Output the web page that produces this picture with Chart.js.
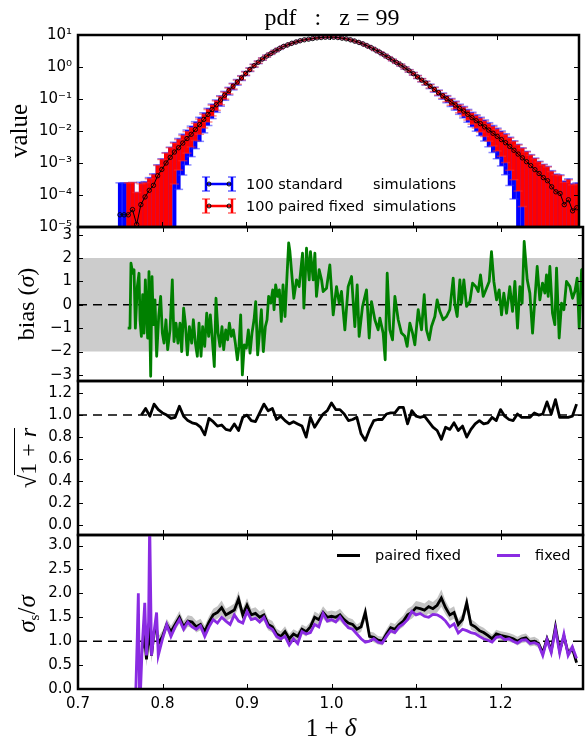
<!DOCTYPE html>
<html><head><meta charset="utf-8">
<script src="https://cdn.jsdelivr.net/npm/chart.js@4.4.0/dist/chart.umd.min.js"></script>
<style>
html,body{margin:0;padding:0;background:#fff;}
body{width:585px;height:739px;position:relative;overflow:hidden;font-family:'DejaVu Sans';}
canvas{position:absolute;left:0;}
.lab{position:absolute;font-family:'Liberation Serif';color:#000;white-space:pre;line-height:1;}
.ctr{transform:translate(-50%,-50%);}
.rot{transform:translate(-50%,-50%) rotate(-90deg);}
.leg{position:absolute;font-family:'DejaVu Sans';font-size:14.5px;color:#000;white-space:pre;line-height:1;}
</style></head><body>
<canvas id="c1" width="585" height="245" style="top:0px"></canvas>
<canvas id="c2" width="585" height="184" style="top:212px"></canvas>
<canvas id="c3" width="585" height="184" style="top:366px"></canvas>
<canvas id="c4" width="585" height="219" style="top:520px"></canvas>

<div class="lab ctr" style="left:332px;top:17px;font-size:24px">pdf   :   z = 99</div>
<div class="lab rot" style="left:18px;top:131px;font-size:25px">value</div>
<div class="lab rot" style="left:26px;top:304px;font-size:24px">bias (<i>σ</i>)</div>
<div class="lab rot" style="left:27px;top:458px;font-size:24px">√<span style="display:inline-block;border-top:1.5px solid #000;padding-top:1px">1 + <i>r</i></span></div>
<div class="lab rot" style="left:28px;top:614px;font-size:25px"><i>σ</i><span style="font-size:15px;vertical-align:-4px">s</span>/<i>σ</i></div>
<div class="lab ctr" style="left:331px;top:727px;font-size:25px">1 + <i>δ</i></div>

<div class="leg" style="left:201px;top:176px;height:16px;display:flex;align-items:center">
<svg width="36" height="16" style="margin-right:9px"><g stroke="rgba(0,0,255,0.6)" stroke-width="1.5"><line x1="1" y1="1" x2="9" y2="1"/><line x1="1" y1="15" x2="9" y2="15"/><line x1="27" y1="1" x2="35" y2="1"/><line x1="27" y1="15" x2="35" y2="15"/></g><g stroke="#0000ff" stroke-width="2.5"><line x1="5" y1="1" x2="5" y2="15"/><line x1="31" y1="1" x2="31" y2="15"/><line x1="5" y1="8" x2="31" y2="8"/></g><circle cx="8" cy="8" r="2" fill="none" stroke="#000"/><circle cx="28" cy="8" r="2" fill="none" stroke="#000"/></svg><span style="display:inline-block;width:127px">100 standard</span><span>simulations</span></div>
<div class="leg" style="left:201px;top:198px;height:16px;display:flex;align-items:center">
<svg width="36" height="16" style="margin-right:9px"><g stroke="rgba(255,0,0,0.6)" stroke-width="1.5"><line x1="1" y1="1" x2="9" y2="1"/><line x1="1" y1="15" x2="9" y2="15"/><line x1="27" y1="1" x2="35" y2="1"/><line x1="27" y1="15" x2="35" y2="15"/></g><g stroke="#ff0000" stroke-width="2.5"><line x1="5" y1="1" x2="5" y2="15"/><line x1="31" y1="1" x2="31" y2="15"/><line x1="5" y1="8" x2="31" y2="8"/></g><circle cx="8" cy="8" r="2" fill="none" stroke="#000"/><circle cx="28" cy="8" r="2" fill="none" stroke="#000"/></svg><span style="display:inline-block;width:127px">100 paired fixed</span><span>simulations</span></div>

<div class="leg" style="left:337px;top:547px;height:16px;display:flex;align-items:center">
<span style="display:inline-block;width:23px;height:3px;background:#000;margin-right:15px"></span><span>paired fixed</span></div>
<div class="leg" style="left:497px;top:547px;height:16px;display:flex;align-items:center">
<span style="display:inline-block;width:23px;height:3px;background:#8a2be2;margin-right:15px"></span><span>fixed</span></div>

<script>
// ---------------- data ----------------
const X_MIN = 0.7, X_MAX = 1.2976;
const xTicks = [0.7, 0.8, 0.9, 1.0, 1.1, 1.2];

const logTicks = [1e-5, 1e-4, 1e-3, 1e-2, 1e-1, 1, 10];
const logTickLabels = ['10\u207B\u2075','10\u207B\u2074','10\u207B\u00B3','10\u207B\u00B2','10\u207B\u00B9','10\u2070','10\u00B9'];
const biasTicks = [-3, -2, -1, 0, 1, 2, 3];
const rTicks = [0.0, 0.2, 0.4, 0.6, 0.8, 1.0, 1.2];
const sigTicks = [0.0, 0.5, 1.0, 1.5, 2.0, 2.5, 3.0];

// panel 1: pdf with error bars
const pdfX = [0.750,0.755,0.760,0.765,0.770,0.775,0.780,0.785,0.790,0.795,
0.800,0.805,0.810,0.815,0.820,0.825,0.830,0.835,0.840,0.845,
0.850,0.855,0.860,0.865,0.870,0.875,0.880,0.885,0.890,0.895,
0.900,0.905,0.910,0.915,0.920,0.925,0.930,0.935,0.940,0.945,
0.950,0.955,0.960,0.965,0.970,0.975,0.980,0.985,0.990,0.995,
1.000,1.005,1.010,1.015,1.020,1.025,1.030,1.035,1.040,1.045,
1.050,1.055,1.060,1.065,1.070,1.075,1.080,1.085,1.090,1.095,
1.100,1.105,1.110,1.115,1.120,1.125,1.130,1.135,1.140,1.145,
1.150,1.155,1.160,1.165,1.170,1.175,1.180,1.185,1.190,1.195,
1.200,1.205,1.210,1.215,1.220,1.225,1.230,1.235,1.240,1.245,
1.250,1.255,1.260,1.265,1.270,1.275,1.280,1.285,1.290,1.295];
const pdfY = [2.4e-5,2.4e-5,2.4e-5,3.5e-5,1.2e-5,5.0e-5,8.7e-5,1.4e-4,2.0e-4,4.0e-4,
6.3e-4,1.0e-3,1.5e-3,2.2e-3,3.0e-3,4.2e-3,5.8e-3,7.9e-3,1.12e-2,1.58e-2,
2.3e-2,3.3e-2,4.7e-2,6.6e-2,9.3e-2,0.132,0.182,0.251,0.339,0.457,
0.631,0.832,1.10,1.41,1.78,2.19,2.63,3.16,3.72,4.37,
4.90,5.50,6.03,6.61,7.08,7.41,7.76,8.13,8.32,8.51,
8.51,8.51,8.32,7.94,7.59,7.08,6.46,5.89,5.25,4.57,
3.98,3.39,2.88,2.40,2.00,1.66,1.38,1.15,0.933,0.759,
0.617,0.490,0.389,0.316,0.251,0.200,0.158,0.126,0.102,0.081,
0.065,0.051,0.042,0.033,0.026,0.021,0.017,0.0135,0.0107,0.0085,
0.0068,0.0054,0.0043,0.0033,0.0025,0.0019,0.00145,0.0011,0.00083,0.00062,
0.00047,0.00035,0.00028,0.00018,0.000126,0.000112,0.00005,0.000071,0.000032,0.00004];
// relative 1-sigma scatter, 100 standard simulations
const errStd = [9,9,9,6,9,4,2,1.5,1.3,1.2,
1.15,1.1,1.08,1.02,0.95,0.9,0.85,0.8,0.75,0.7,
0.62,0.55,0.48,0.42,0.36,0.31,0.27,0.23,0.2,0.17,
0.15,0.13,0.11,0.095,0.08,0.07,0.06,0.05,0.045,0.04,
0.03,0.03,0.03,0.03,0.03,0.03,0.03,0.03,0.03,0.03,
0.03,0.03,0.03,0.03,0.03,0.03,0.03,0.03,0.03,0.03,
0.03,0.035,0.04,0.045,0.05,0.055,0.06,0.07,0.08,0.09,
0.1,0.11,0.12,0.14,0.16,0.18,0.2,0.22,0.25,0.28,
0.31,0.35,0.39,0.43,0.48,0.53,0.58,0.64,0.7,0.75,
0.8,0.85,0.9,0.94,0.97,1.02,1.05,1.1,1.2,1.3,
1.4,1.6,1.8,2.2,2.6,2.8,4.5,3.5,6,5];
// relative 1-sigma scatter, 100 paired fixed simulations
const errFix = [null,null,9,6,9,3.5,1.8,1.3,1.15,1.1,
1.05,1.03,1.01,0.9,0.8,0.72,0.65,0.6,0.55,0.5,
0.46,0.42,0.37,0.33,0.29,0.25,0.21,0.18,0.15,0.13,
0.11,0.1,0.085,0.075,0.065,0.055,0.05,0.04,0.035,0.03,
0.025,0.025,0.025,0.025,0.025,0.025,0.025,0.025,0.025,0.025,
0.025,0.025,0.025,0.025,0.025,0.025,0.025,0.025,0.025,0.025,
0.025,0.03,0.03,0.035,0.04,0.045,0.05,0.055,0.06,0.07,
0.08,0.09,0.1,0.11,0.12,0.14,0.16,0.17,0.19,0.21,
0.24,0.27,0.3,0.33,0.37,0.41,0.45,0.5,0.55,0.6,
0.65,0.7,0.76,0.82,0.88,0.93,0.97,1.02,1.1,1.2,
1.3,1.5,1.7,2.0,2.4,2.6,4,3.2,5.5,4.5];

// panel 2: bias in units of sigma
const biasBand = [-2, 2];
const biasRef = 0;
const biasX = [0.7588,0.7615,0.7627,0.7647,0.7663,0.7679,0.7702,0.7722,0.7734,0.7750,
0.7765,0.7781,0.7797,0.7813,0.7824,0.7840,0.7860,0.7876,0.7892,0.7911,
0.7931,0.7955,0.7978,0.7998,0.8018,0.8041,0.8061,0.8089,0.8116,0.8136,
0.8160,0.8183,0.8207,0.8227,0.8250,0.8270,0.8294,0.8318,0.8345,0.8365,
0.8389,0.8412,0.8432,0.8456,0.8475,0.8499,0.8523,0.8546,0.8566,0.8590,
0.8613,0.8633,0.8657,0.8680,0.8704,0.8724,0.8748,0.8771,0.8791,0.8815,
0.8838,0.8862,0.8886,0.8905,0.8925,0.8945,0.8968,0.8992,0.9016,0.9036,
0.9059,0.9083,0.9103,0.9126,0.9146,0.9170,0.9193,0.9217,0.9237,0.9256,
0.9280,0.9304,0.9320,0.9339,0.9363,0.9383,0.9406,0.9426,0.9450,0.9469,
0.9493,
0.9507,0.9554,0.9586,0.9617,0.9657,0.9673,0.9704,0.9736,0.9751,0.9783,
0.9803,0.9822,0.9854,0.9882,0.9901,0.9941,0.9980,1.0020,1.0059,1.0091,
1.0118,1.0158,1.0197,1.0237,1.0276,1.0304,1.0327,1.0367,1.0414,1.0446,
1.0473,1.0513,1.0552,1.0572,1.0611,1.0635,1.0659,1.0690,1.0722,1.0750,
1.0789,1.0828,1.0868,1.0895,1.0927,1.0959,1.0986,1.1026,1.1065,1.1097,
1.1124,1.1156,1.1183,1.1223,1.1250,1.1282,1.1321,1.1361,1.1400,1.1440,
1.1460,1.1487,1.1519,1.1538,1.1566,1.1598,1.1637,1.1669,1.1708,1.1736,
1.1763,1.1795,1.1834,1.1866,1.1893,1.1921,1.1953,1.1984,1.2012,1.2039,
1.2071,1.2110,1.2142,1.2170,1.2201,1.2229,1.2256,1.2280,1.2316,1.2347,
1.2379,1.2406,1.2434,1.2465,1.2497,1.2525,1.2544,1.2564,1.2584,1.2615,
1.2643,1.2663,1.2694,1.2722,1.2750,1.2781,1.2821,1.2852,1.2880,1.2907,
1.2931,1.2959,1.2986];
const biasY = [-1.0,-1.0,1.78,1.35,1.5,-1.0,0.78,1.35,-0.64,-1.35,
0.43,-1.21,1.07,-0.5,-1.42,1.42,-3.06,1.21,-0.85,0.21,
-2.2,-0.5,0.36,-1.21,-1.64,-0.64,-1.92,-1.07,1.07,-1.57,
-0.78,-1.64,-0.78,-2.0,-0.14,-0.78,-2.14,-0.93,-1.64,-0.64,
-1.64,-2.2,-0.78,-2.2,-0.93,-1.78,-0.36,-1.35,-0.43,-1.5,
-2.64,0.28,-1.21,-1.78,-0.93,-1.92,-1.07,-1.5,-0.78,-1.35,
-1.07,-1.64,-2.35,-1.78,-0.43,-3.0,-1.71,-1.85,-1.07,-2.07,
-1.21,-0.64,0.14,-2.14,-1.28,-0.21,-2.0,-0.93,-0.64,0.36,
0.07,0.64,-0.21,0.85,0.36,0.64,-0.71,0.85,-0.5,0.93,
2.65,
2.3,0.28,1.07,0.78,2.21,-0.14,2.42,1.07,2.28,1.07,
2.21,0.36,1.50,1.07,0.57,0.71,1.71,-0.43,0.78,0.07,
0.57,-1.07,0.78,1.21,-0.93,0.85,-1.35,-0.07,0.64,-1.42,
0.14,-0.64,-1.07,-0.57,-1.21,-2.35,1.35,-1.07,-1.50,0.36,
-0.64,-1.21,-1.35,-1.78,-0.78,-1.21,-1.71,-0.21,-1.07,0.43,
-1.07,-1.50,-0.93,-0.50,0.21,-0.28,-0.64,-0.50,-0.21,1.14,
0.00,-0.50,1.07,0.07,1.07,-0.07,0.14,0.93,0.78,0.57,
1.28,0.36,0.71,1.00,2.28,1.00,0.21,0.64,-0.43,0.50,
-0.36,0.78,-0.28,1.00,-1.00,0.78,0.07,2.71,1.07,0.50,
-1.21,0.21,1.64,0.21,0.93,0.50,1.28,0.36,1.64,-0.36,
-0.85,1.57,-1.42,0.07,-0.21,1.00,0.78,0.28,0.57,1.14,
-1.00,1.50,1.57];

// panel 3: sqrt(1+r)
const rRef = 1;
const rX = [0.775,0.780,0.785,0.790,0.795,0.800,0.805,0.810,0.815,0.820,
0.825,0.830,0.835,0.840,0.845,0.850,0.855,0.860,0.865,0.870,
0.875,0.880,0.885,0.890,0.895,0.900,0.905,0.910,0.915,0.920,
0.925,0.930,0.935,0.940,0.945,0.950,0.955,0.960,0.965,0.970,
0.975,0.980,0.985,0.990,0.995,1.000,1.005,1.010,1.015,1.020,
1.025,1.030,1.035,1.040,1.045,1.050,1.055,1.060,1.065,1.070,
1.075,1.080,1.085,1.090,1.095,1.100,1.105,1.110,1.115,1.120,
1.125,1.130,1.135,1.140,1.145,1.150,1.155,1.160,1.165,1.170,
1.175,1.180,1.185,1.190,1.195,1.200,1.205,1.210,1.215,1.220,
1.225,1.230,1.235,1.240,1.245,1.250,1.255,1.260,1.265,1.270,
1.275,1.280,1.285,1.290];
const rY = [1.00,1.06,0.99,1.10,1.05,1.02,1.00,0.97,0.98,1.08,
0.99,0.95,0.93,0.92,0.89,0.82,0.97,0.94,0.90,0.91,
0.87,0.86,0.92,0.86,0.98,1.00,0.95,0.94,1.02,1.10,
1.04,1.06,0.96,0.99,0.95,0.92,0.94,0.92,0.90,0.80,
0.98,0.89,0.95,1.01,1.04,1.11,1.05,1.05,1.01,0.95,
0.96,0.98,0.83,0.77,0.87,0.95,0.96,0.96,1.01,1.02,
1.02,1.07,1.07,0.92,1.04,0.99,0.98,0.99,0.94,0.89,
0.86,0.78,0.89,0.87,0.93,0.86,0.90,0.80,0.87,0.92,
0.95,0.92,0.93,0.98,0.95,1.05,0.99,0.96,0.95,1.01,
0.98,0.98,0.98,1.02,1.00,1.01,1.12,1.01,1.14,0.98,
0.98,0.98,0.99,1.10];

// panel 4: sigma_s / sigma
const sigRef = 1;
const sigX = [0.768,0.770,0.7714,0.773,0.776,0.779,0.781,0.7835,0.7848,0.787,0.790,0.793,0.795,
0.800,0.805,0.810,0.815,0.820,0.825,0.830,0.835,0.840,0.845,
0.850,0.855,0.860,0.865,0.870,0.875,0.880,0.885,0.890,0.895,
0.900,0.905,0.910,0.915,0.920,0.925,0.930,0.935,0.940,0.945,
0.950,0.955,0.960,
0.965,0.970,0.975,0.980,0.985,0.990,0.995,1.000,1.005,1.010,
1.015,1.020,1.025,1.030,1.035,1.040,1.045,1.050,1.055,1.060,
1.065,1.070,1.075,1.080,1.085,1.090,1.095,1.100,1.105,1.110,
1.115,1.120,1.125,1.130,1.135,1.140,1.145,1.150,1.155,1.160,
1.165,1.170,1.175,1.180,1.185,1.190,1.195,1.200,1.205,1.210,
1.215,1.220,1.225,1.230,1.235,1.240,1.245,1.250,1.255,1.260,
1.265,1.270,1.275,1.280,1.285,1.290];
const sigPaired = [null,null,null,null,0.85,1.05,0.62,1.1,1.2,0.7,1.2,1.25,0.95,
1.10,1.35,1.20,1.35,1.50,1.30,1.42,1.40,1.30,1.35,
1.20,1.40,1.55,1.60,1.70,1.55,1.60,1.65,1.88,1.55,
1.75,1.55,1.58,1.50,1.55,1.35,1.30,1.15,1.10,1.20,
1.05,1.15,1.10,
1.25,1.20,1.30,1.50,1.45,1.60,1.50,1.52,1.50,1.55,
1.45,1.38,1.35,1.25,1.30,1.60,1.10,1.08,1.02,1.00,
1.15,1.28,1.25,1.35,1.42,1.55,1.60,1.70,1.68,1.65,
1.72,1.68,1.75,1.90,1.70,1.55,1.60,1.35,1.45,1.80,
1.35,1.30,1.22,1.18,1.12,1.05,1.15,1.12,1.10,1.08,
1.05,1.00,1.05,1.07,0.98,1.00,0.95,0.75,1.05,0.80,
1.30,0.80,1.10,0.75,0.85,0.55];
const sigPairedErr = [null,null,null,null,0.15,0.2,0.15,0.2,0.2,0.15,0.15,0.15,0.15,
0.12,0.12,0.12,0.12,0.13,0.12,0.12,0.12,0.12,0.12,
0.12,0.12,0.13,0.13,0.15,0.13,0.13,0.14,0.17,0.13,
0.15,0.13,0.13,0.12,0.13,0.12,0.12,0.11,0.11,0.11,
0.1,0.1,0.1,
0.1,0.1,0.1,0.12,0.12,0.13,0.12,0.12,0.12,0.13,
0.12,0.11,0.11,0.1,0.11,0.15,0.1,0.1,0.09,0.09,
0.1,0.11,0.11,0.11,0.12,0.13,0.13,0.14,0.14,0.14,
0.14,0.14,0.15,0.18,0.14,0.13,0.13,0.11,0.12,0.16,
0.11,0.1,0.1,0.1,0.09,0.09,0.09,0.09,0.09,0.09,
0.09,0.09,0.09,0.09,0.09,0.09,0.09,0.08,0.09,0.08,
0.1,0.08,0.09,0.08,0.08,0.07];
const sigFixed = [-0.3,1.0,2.0,-0.5,0.9,1.8,0.7,1.4,3.5,0.7,1.2,1.6,0.7,
1.05,1.35,1.10,1.30,1.45,1.25,1.40,1.30,1.25,1.32,
1.10,1.30,1.45,1.38,1.50,1.42,1.35,1.55,1.42,1.38,
1.62,1.45,1.48,1.40,1.50,1.30,1.25,1.10,1.05,1.10,
0.92,1.05,0.95,
1.20,1.15,1.18,1.35,1.30,1.58,1.42,1.45,1.40,1.51,
1.38,1.28,1.25,1.15,1.05,0.98,1.00,1.05,0.98,0.96,
1.10,1.22,1.18,1.30,1.36,1.45,1.62,1.55,1.58,1.52,
1.50,1.56,1.55,1.50,1.42,1.30,1.36,1.17,1.25,1.22,
1.18,1.16,1.10,1.05,1.02,0.98,1.08,1.10,1.03,1.05,
1.00,0.96,1.02,1.03,0.95,0.97,0.93,0.70,1.03,0.76,
1.25,0.75,1.15,0.70,0.88,0.64];

// ---------------- helpers ----------------
Chart.defaults.font.family = "'DejaVu Sans'";
Chart.defaults.font.size = 15;
Chart.defaults.color = '#000';

const pts = (xs, ys) => xs.map((x, i) => ({x, y: ys[i]}));
const hline = v => [{x: X_MIN, y: v}, {x: X_MAX, y: v}];

function errSegments(err) {
  const d = [];
  pdfX.forEach((x, i) => {
    if (err[i] == null) return;
    const v = pdfY[i], e = err[i];
    d.push({x, y: Math.max(v * (1 - e), 1e-9)}, {x, y: v * (1 + e)}, {x, y: null});
  });
  return d;
}
function errCaps(err) {
  const d = [];
  pdfX.forEach((x, i) => {
    if (err[i] == null) return;
    const v = pdfY[i], e = err[i];
    d.push({x, y: v * (1 + e)});
    if (e < 1) d.push({x, y: v * (1 - e)});
  });
  return d;
}

const framePlugin = {
  id: 'frame',
  afterDatasetsDraw(chart) {
    const {ctx, chartArea: a, scales} = chart;
    const xs = scales.x, ys = scales.y;
    ctx.save();
    ctx.strokeStyle = '#000';
    ctx.lineWidth = 1;
    const L = 5;
    ctx.beginPath();
    xTicks.forEach(t => {
      const px = Math.round(xs.getPixelForValue(t)) + 0.5;
      if (px <= a.left + 2 || px >= a.right - 2) return;
      ctx.moveTo(px, a.bottom); ctx.lineTo(px, a.bottom - L);
      ctx.moveTo(px, a.top); ctx.lineTo(px, a.top + L);
    });
    ys.ticks.forEach(t => {
      const py = Math.round(ys.getPixelForValue(t.value)) + 0.5;
      if (py <= a.top + 2 || py >= a.bottom - 2) return;
      ctx.moveTo(a.left, py); ctx.lineTo(a.left + L, py);
      ctx.moveTo(a.right, py); ctx.lineTo(a.right - L, py);
    });
    ctx.stroke();
    ctx.lineWidth = 2.5;
    ctx.strokeRect(a.left, a.top, a.right - a.left, a.bottom - a.top);
    ctx.restore();
  }
};

function makeChart(id, padTop, padBottom, yOpts, datasets, showX) {
  const yTicksArr = yOpts.tickValues;
  const yScale = {
    type: yOpts.type || 'linear',
    min: yOpts.min, max: yOpts.max,
    grid: {display: false, drawTicks: false},
    border: {display: false},
    afterBuildTicks: s => { s.ticks = yTicksArr.map(v => ({value: v})); },
    afterFit: s => { s.width = 78; },
    ticks: {padding: 6, autoSkip: false, callback: yOpts.fmt}
  };
  const xScale = {
    type: 'linear', min: X_MIN, max: X_MAX, display: showX,
    grid: {display: false, drawTicks: false},
    border: {display: false},
    afterBuildTicks: s => { s.ticks = xTicks.map(v => ({value: v})); },
    afterFit: s => { s.height = showX ? 35 : 0; },
    ticks: {padding: 6, autoSkip: false, maxRotation: 0, callback: v => v.toFixed(1)}
  };
  return new Chart(document.getElementById(id), {
    type: 'line',
    data: {datasets},
    options: {
      responsive: false, animation: false, events: [],
      layout: {padding: {top: padTop, bottom: padBottom, left: 0, right: 2}},
      plugins: {legend: {display: false}, tooltip: {enabled: false}},
      elements: {point: {radius: 0}, line: {tension: 0}},
      scales: {x: xScale, y: yScale}
    },
    plugins: [framePlugin]
  });
}

// ---------------- panel 1 ----------------
makeChart('c1', 35, 18, {
  type: 'logarithmic', min: 1e-5, max: 10, tickValues: logTicks,
  fmt: v => logTickLabels[logTicks.findIndex(t => Math.abs(Math.log10(t) - Math.log10(v)) < 1e-6)] || ''
}, [
  {label: '100 standard simulations', data: errSegments(errStd), borderColor: '#0000ff', borderWidth: 4,
   borderCapStyle: 'butt', spanGaps: false, pointRadius: 0, order: 5},
  {data: errCaps(errStd), showLine: false, pointStyle: 'line', pointRadius: 4.5, pointBorderWidth: 1.5,
   pointBorderColor: 'rgba(40,40,255,0.55)', borderColor: 'rgba(40,40,255,0.55)', order: 4},
  {label: '100 paired fixed simulations', data: errSegments(errFix), borderColor: '#ff0000', borderWidth: 4,
   borderCapStyle: 'butt', spanGaps: false, pointRadius: 0, order: 3},
  {data: errCaps(errFix), showLine: false, pointStyle: 'line', pointRadius: 4.5, pointBorderWidth: 1.5,
   pointBorderColor: 'rgba(255,40,40,0.55)', borderColor: 'rgba(255,40,40,0.55)', order: 2},
  {data: pts(pdfX, pdfY), borderColor: '#000', borderWidth: 1, pointRadius: 2.2, pointBorderWidth: 0.9,
   pointBorderColor: '#000', pointBackgroundColor: 'rgba(0,0,0,0)', order: 1}
], false);

// ---------------- panel 2 ----------------
makeChart('c2', 15, 15, {
  min: -3.26, max: 3.33, tickValues: biasTicks,
  fmt: v => (v < 0 ? '\u2212' + Math.abs(v) : String(v))
}, [
  {data: hline(biasBand[1]), fill: {value: biasBand[0]}, backgroundColor: '#cccccc', borderWidth: 0, order: 3},
  {data: hline(biasRef), borderColor: '#000', borderWidth: 1.5, borderDash: [9, 6], order: 2},
  {data: pts(biasX, biasY), borderColor: '#008000', borderWidth: 2.8, borderJoinStyle: 'round', order: 1}
], false);

// ---------------- panel 3 ----------------
makeChart('c3', 15, 15, {
  min: -0.09, max: 1.31, tickValues: rTicks, fmt: v => v.toFixed(1)
}, [
  {data: hline(rRef), borderColor: '#000', borderWidth: 1.5, borderDash: [9, 6], order: 2},
  {data: pts(rX, rY), borderColor: '#000', borderWidth: 2.8, borderJoinStyle: 'round', order: 1}
], false);

// ---------------- panel 4 ----------------
makeChart('c4', 15, 15, {
  min: 0, max: 3.22, tickValues: sigTicks, fmt: v => v.toFixed(1)
}, [
  {data: sigX.map((x, i) => ({x, y: sigPaired[i] == null ? null : sigPaired[i] + sigPairedErr[i]})),
   fill: '+1', backgroundColor: 'rgba(195,195,195,1)', borderWidth: 0, spanGaps: false, order: 5},
  {data: sigX.map((x, i) => ({x, y: sigPaired[i] == null ? null : sigPaired[i] - sigPairedErr[i]})),
   borderWidth: 0, spanGaps: false, order: 5},
  {data: hline(sigRef), borderColor: '#000', borderWidth: 1.5, borderDash: [9, 6], order: 4},
  {label: 'paired fixed', data: pts(sigX, sigPaired), borderColor: '#000', borderWidth: 2.8, spanGaps: false, order: 2},
  {label: 'fixed', data: pts(sigX, sigFixed), borderColor: '#8a2be2', borderWidth: 2.8, order: 1}
], true);
</script>
</body></html>
